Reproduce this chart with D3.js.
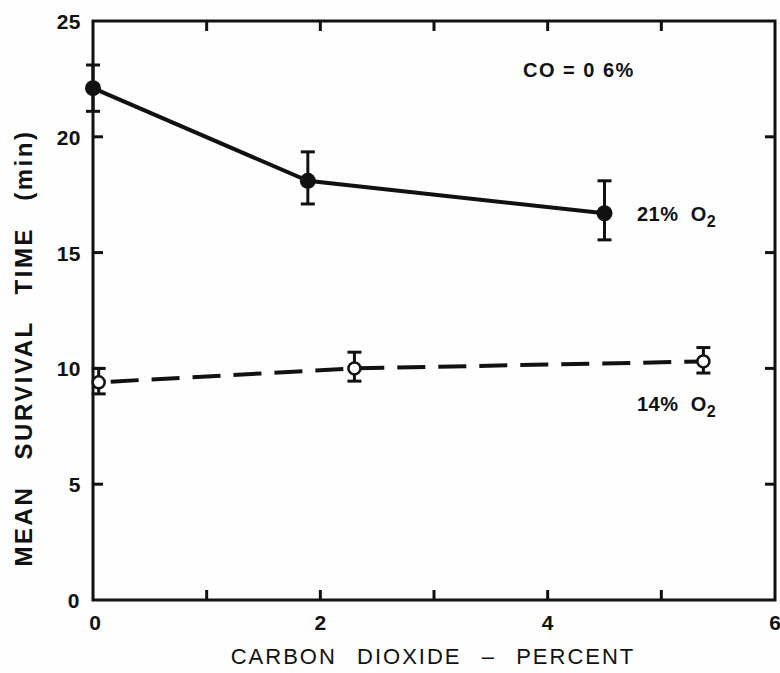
<!DOCTYPE html>
<html>
<head>
<meta charset="utf-8">
<script src="https://cdn.jsdelivr.net/npm/d3@7"></script>
<style>
  html, body { margin: 0; padding: 0; background: #fefefe; }
  svg text { font-family: "Liberation Sans", Arial, sans-serif; fill: #111; }
</style>
</head>
<body>
<svg id="chart" width="780" height="673"></svg>
<script>
// ---- data ----
const xTickValues = [0, 2, 4, 6];
const yTickValues = [0, 5, 10, 15, 20, 25];
const minorXTicks = [1, 2, 3, 4, 5];
const minorYTicks = [5, 10, 15, 20];

const o2_21_x   = [0, 1.89, 4.5];
const o2_21_y   = [22.1, 18.1, 16.7];
const o2_21_lo  = [21.1, 17.1, 15.55];
const o2_21_hi  = [23.1, 19.35, 18.1];

const o2_14_x   = [0.05, 2.3, 5.37];
const o2_14_y   = [9.4, 10.0, 10.3];
const o2_14_lo  = [8.9, 9.45, 9.8];
const o2_14_hi  = [10.0, 10.7, 10.9];

const seriesLabels = ["21% O", "14% O"];
const annotation = "CO = 0 6%";
const xTitle = "CARBON  DIOXIDE  \u2013  PERCENT";
const yTitle = "MEAN  SURVIVAL  TIME  (min)";

// ---- layout ----
const svg = d3.select("#chart");
const L = 93, R = 775, T = 21, B = 600;
const x = d3.scaleLinear().domain([0, 6]).range([L, R]);
const y = d3.scaleLinear().domain([0, 25]).range([B, T]);

const ink = "#111";
const tickLen = 10;

// frame
svg.append("rect").attr("x", L).attr("y", T).attr("width", R - L).attr("height", B - T)
  .attr("fill", "none").attr("stroke", ink).attr("stroke-width", 3);

// inward ticks: bottom & top, left & right
const g = svg.append("g").attr("stroke", ink).attr("stroke-width", 3);
minorXTicks.forEach(v => {
  g.append("line").attr("x1", x(v)).attr("x2", x(v)).attr("y1", B).attr("y2", B - tickLen);
  g.append("line").attr("x1", x(v)).attr("x2", x(v)).attr("y1", T).attr("y2", T + tickLen);
});
minorYTicks.forEach(v => {
  g.append("line").attr("x1", L).attr("x2", L + tickLen).attr("y1", y(v)).attr("y2", y(v));
  g.append("line").attr("x1", R).attr("x2", R - tickLen).attr("y1", y(v)).attr("y2", y(v));
});

// tick labels
svg.selectAll(".xl").data(xTickValues).enter().append("text")
  .attr("x", d => x(d) + (d === 0 ? 2 : 0)).attr("y", 630)
  .attr("text-anchor", "middle").attr("font-size", 21).attr("font-weight", "bold")
  .text(d => d);
svg.selectAll(".yl").data(yTickValues).enter().append("text")
  .attr("x", d => d === 0 ? 80 : 81).attr("y", d => y(d) + 8)
  .attr("text-anchor", "end").attr("font-size", 21).attr("font-weight", "bold")
  .attr("letter-spacing", 0.5)
  .text(d => d);

// axis titles
svg.append("text").attr("x", 433).attr("y", 664)
  .attr("text-anchor", "middle").attr("font-size", 22).attr("letter-spacing", 2)
  .attr("word-spacing", 2)
  .attr("xml:space", "preserve")
  .text(xTitle);
svg.append("text").attr("transform", "translate(32,348) rotate(-90)")
  .attr("text-anchor", "middle").attr("font-size", 24).attr("letter-spacing", 2.5)
  .attr("word-spacing", 4)
  .attr("font-weight", "bold")
  .attr("xml:space", "preserve")
  .text(yTitle);

// lines
const line = d3.line().x(d => x(d[0])).y(d => y(d[1]));
const d21 = o2_21_x.map((v, i) => [v, o2_21_y[i]]);
const d14 = o2_14_x.map((v, i) => [v, o2_14_y[i]]);

svg.append("path").attr("d", line(d21)).attr("fill", "none")
  .attr("stroke", ink).attr("stroke-width", 4);
svg.append("path").attr("d", line(d14)).attr("fill", "none")
  .attr("stroke", ink).attr("stroke-width", 4).attr("stroke-dasharray", "28,13")
  .attr("stroke-dashoffset", -12);

// error bars
function errBars(xs, lo, hi) {
  const eg = svg.append("g").attr("stroke", ink).attr("stroke-width", 3);
  xs.forEach((v, i) => {
    const cx = x(v);
    eg.append("line").attr("x1", cx).attr("x2", cx).attr("y1", y(lo[i])).attr("y2", y(hi[i]));
    eg.append("line").attr("x1", cx - 7).attr("x2", cx + 7).attr("y1", y(lo[i])).attr("y2", y(lo[i]));
    eg.append("line").attr("x1", cx - 7).attr("x2", cx + 7).attr("y1", y(hi[i])).attr("y2", y(hi[i]));
  });
}
errBars(o2_21_x, o2_21_lo, o2_21_hi);
errBars(o2_14_x, o2_14_lo, o2_14_hi);

// markers
svg.selectAll(".f").data(d21).enter().append("circle")
  .attr("cx", d => x(d[0])).attr("cy", d => y(d[1])).attr("r", 8).attr("fill", ink);
svg.selectAll(".o").data(d14).enter().append("circle")
  .attr("cx", d => x(d[0])).attr("cy", d => y(d[1])).attr("r", 6)
  .attr("fill", "#fefefe").attr("stroke", ink).attr("stroke-width", 2.5);

// series labels
function o2Label(tx, ty, txt) {
  const t = svg.append("text").attr("x", tx).attr("y", ty).attr("font-size", 20)
    .attr("font-weight", "bold").attr("letter-spacing", 0.5).attr("xml:space", "preserve");
  t.append("tspan").text(txt.replace(" O", "  O"));
  t.append("tspan").attr("dy", 6).attr("font-size", 16).text("2");
}
o2Label(637, 221, seriesLabels[0]);
o2Label(637, 411, seriesLabels[1]);

// annotation
svg.append("text").attr("x", 523).attr("y", 77).attr("font-size", 20)
  .attr("font-weight", "bold").attr("letter-spacing", 1.5)
  .attr("xml:space", "preserve").text(annotation);
</script>
</body>
</html>
